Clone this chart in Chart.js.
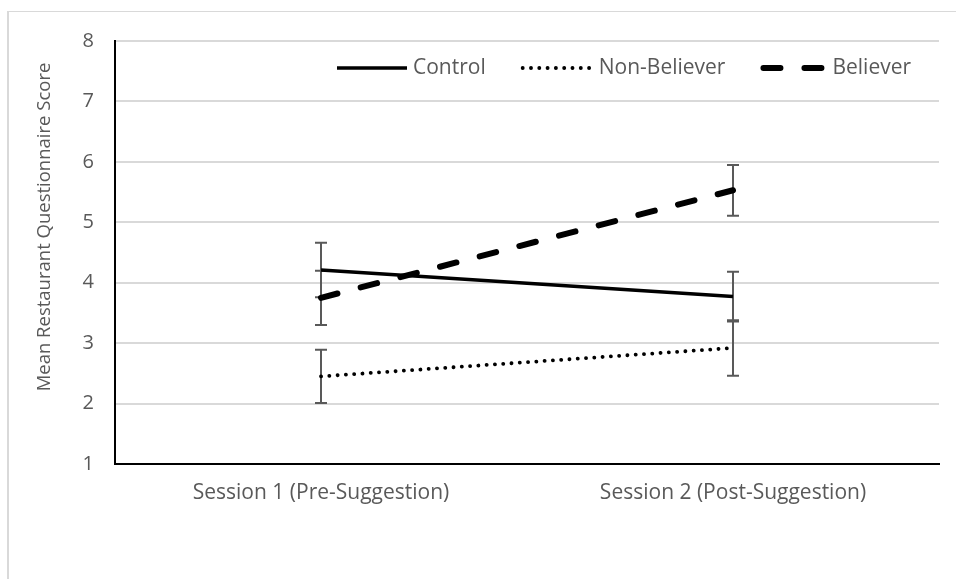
<!DOCTYPE html>
<html>
<head>
<meta charset="utf-8">
<script src="https://cdn.jsdelivr.net/npm/chart.js@4.4.0/dist/chart.umd.min.js"></script>
<style>
    html, body { margin: 0; padding: 0; background: #fff; }
    #wrap { position: relative; width: 956px; height: 579px; }
</style>
</head>
<body>
<div id="wrap"><canvas id="grafico" width="956" height="579"></canvas></div>
<script>
const sessoes = ["Session 1 (Pre-Suggestion)", "Session 2 (Post-Suggestion)"];
const ticksY = [1, 2, 3, 4, 5, 6, 7, 8];

const controle = [4.21, 3.77];
const controleErro = [0.45, 0.41];

const naoCrente = [2.45, 2.92];
const naoCrenteErro = [0.44, 0.46];

const crente = [3.75, 5.53];
const crenteErro = [0.45, 0.42];

const corTexto = "#595959";
const fonte = "'Open Sans', sans-serif";

// borda clara em volta do grafico (so esquerda e topo aparecem)
const moldura = {
    id: "moldura",
    beforeDraw(chart) {
        const ctx = chart.ctx;
        ctx.save();
        ctx.fillStyle = "#d9d9d9";
        ctx.fillRect(7, 11, 2, chart.height);
        ctx.fillRect(7, 11, chart.width, 1);
        ctx.restore();
    }
};

// barras de erro desenhadas atras das linhas
const barrasErro = {
    id: "barrasErro",
    beforeDatasetsDraw(chart) {
        const ctx = chart.ctx;
        const y = chart.scales.y;
        ctx.save();
        ctx.strokeStyle = "#595959";
        ctx.lineWidth = 2;
        chart.data.datasets.forEach((ds, i) => {
            const meta = chart.getDatasetMeta(i);
            meta.data.forEach((pt, j) => {
                const topo = y.getPixelForValue(ds.data[j] + ds.erros[j]);
                const base = y.getPixelForValue(ds.data[j] - ds.erros[j]);
                const x = Math.round(pt.x);
                ctx.beginPath();
                ctx.moveTo(x, topo);
                ctx.lineTo(x, base);
                ctx.moveTo(x - 6, topo);
                ctx.lineTo(x + 6, topo);
                ctx.moveTo(x - 6, base);
                ctx.lineTo(x + 6, base);
                ctx.stroke();
            });
        });
        ctx.restore();
    }
};

// legenda dentro da area do grafico
const legenda = {
    id: "legenda",
    afterDraw(chart) {
        const ctx = chart.ctx;
        ctx.save();
        ctx.font = "21px " + fonte;
        ctx.textBaseline = "middle";
        ctx.fillStyle = corTexto;
        let x = 337;
        const y = 68;
        chart.data.datasets.forEach((ds) => {
            const comp = ds.amostra;
            ctx.save();
            ctx.strokeStyle = ds.borderColor;
            ctx.lineWidth = ds.borderWidth;
            ctx.lineCap = ds.borderCapStyle || "butt";
            ctx.setLineDash(ds.borderDash || []);
            const folga = ds.borderCapStyle === "round" ? ds.borderWidth / 2 : 0;
            ctx.beginPath();
            ctx.moveTo(x + folga, y);
            ctx.lineTo(x + comp - folga, y);
            ctx.stroke();
            ctx.restore();
            x += comp + 6;
            ctx.fillText(ds.label, x, y);
            x += ctx.measureText(ds.label).width + 35;
        });
        ctx.restore();
    }
};

// titulo do eixo y
const tituloY = {
    id: "tituloY",
    afterDraw(chart) {
        const ctx = chart.ctx;
        ctx.save();
        ctx.translate(45, 227);
        ctx.rotate(-Math.PI / 2);
        ctx.font = "18.5px " + fonte;
        ctx.fillStyle = corTexto;
        ctx.textAlign = "center";
        ctx.textBaseline = "middle";
        ctx.fillText("Mean Restaurant Questionnaire Score", 0, 0);
        ctx.restore();
    }
};

const ctx = document.getElementById("grafico").getContext("2d");

new Chart(ctx, {
    type: "line",
    data: {
        labels: sessoes,
        datasets: [
            {
                label: "Control",
                data: controle,
                erros: controleErro,
                borderColor: "#000",
                borderWidth: 3.5,
                amostra: 70,
                pointRadius: 0,
                tension: 0
            },
            {
                label: "Non-Believer",
                data: naoCrente,
                erros: naoCrenteErro,
                borderColor: "#000",
                borderWidth: 3.8,
                borderDash: [0.1, 8.2],
                borderCapStyle: "round",
                amostra: 72,
                pointRadius: 0,
                tension: 0
            },
            {
                label: "Believer",
                data: crente,
                erros: crenteErro,
                borderColor: "#000",
                borderWidth: 6,
                borderDash: [17, 24],
                borderCapStyle: "round",
                amostra: 66,
                pointRadius: 0,
                tension: 0
            }
        ]
    },
    options: {
        responsive: false,
        animation: false,
        devicePixelRatio: 1,
        layout: { padding: { top: 41, right: 17, left: 0, bottom: 0 } },
        plugins: {
            legend: { display: false },
            tooltip: { enabled: false }
        },
        scales: {
            x: {
                offset: true,
                grid: { display: false, drawTicks: false },
                border: { color: "#000", width: 2 },
                ticks: { color: corTexto, font: { family: fonte, size: 21 }, padding: 16 },
                afterFit(s) { s.height = 115; }
            },
            y: {
                min: 1,
                max: 8,
                afterBuildTicks(s) { s.ticks = ticksY.map(v => ({ value: v })); },
                ticks: { color: corTexto, font: { family: fonte, size: 20 }, padding: 21 },
                grid: { color: "#d9d9d9", lineWidth: 2, drawTicks: false },
                border: { color: "#000", width: 2 },
                afterFit(s) { s.width = 115; }
            }
        }
    },
    plugins: [moldura, barrasErro, legenda, tituloY]
});
</script>
</body>
</html>
